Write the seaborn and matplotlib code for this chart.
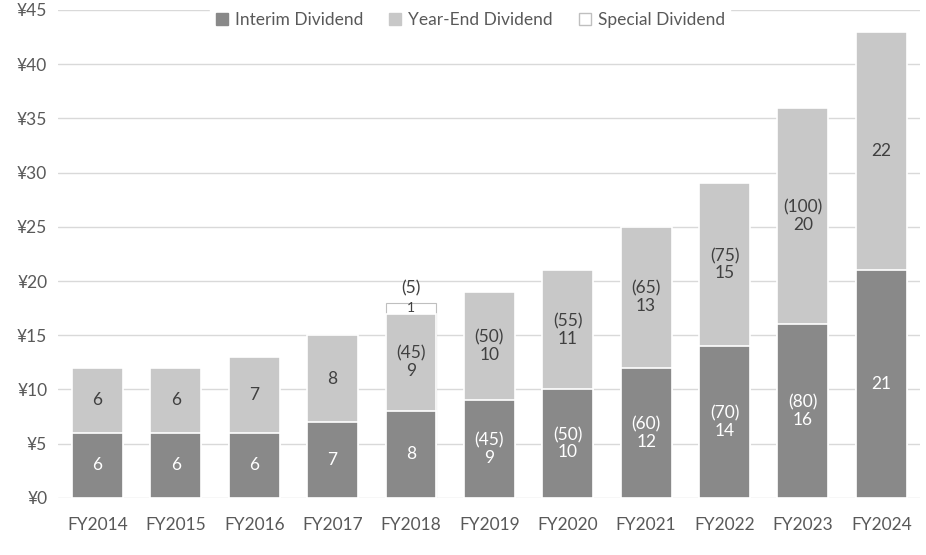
import numpy as np
import pandas as pd
import seaborn as sns
import matplotlib.pyplot as plt
from matplotlib.patches import Patch

# === DADOS ===
years = ["FY2014", "FY2015", "FY2016", "FY2017", "FY2018", "FY2019",
         "FY2020", "FY2021", "FY2022", "FY2023", "FY2024"]
interim = [6, 6, 6, 7, 8, 9, 10, 12, 14, 16, 21]
year_end = [6, 6, 7, 8, 9, 10, 11, 13, 15, 20, 22]
special = [0, 0, 0, 0, 1, 0, 0, 0, 0, 0, 0]
interim_notes = ["", "", "", "", "", "(45)", "(50)", "(60)", "(70)", "(80)", ""]
year_end_notes = ["", "", "", "", "(45)", "(50)", "(55)", "(65)", "(75)", "(100)", ""]
special_notes = ["", "", "", "", "(5)", "", "", "", "", "", ""]

df = pd.DataFrame({"Ano": years, "Interim": interim, "YearEnd": year_end, "Special": special})
df["Mid"] = df["Interim"] + df["YearEnd"]
df["Total"] = df["Mid"] + df["Special"]

c_dark = "#898989"
c_light = "#c8c8c8"
c_text = "#595959"

sns.set_theme(style="white")
plt.rcParams["font.family"] = ["Lato", "DejaVu Sans"]

fig, ax = plt.subplots(figsize=(9.26, 5.55), dpi=100)
fig.subplots_adjust(left=0.063, right=0.994, top=0.982, bottom=0.103)

w = 0.65
sns.barplot(data=df, x="Ano", y="Total", color="white", width=w, saturation=1,
            edgecolor="#bfbfbf", linewidth=0.8, ax=ax, zorder=2)
# borda só onde existe dividendo especial
for p, s in zip(ax.patches, special):
    if s == 0:
        p.set_edgecolor("none")
sns.barplot(data=df, x="Ano", y="Mid", color=c_light, width=w, saturation=1,
            edgecolor="white", linewidth=1.2, ax=ax, zorder=3)
sns.barplot(data=df, x="Ano", y="Interim", color=c_dark, width=w, saturation=1,
            edgecolor="white", linewidth=1.2, ax=ax, zorder=4)

# rótulos
fs = 12.5
ls = 1.1
for i in range(len(years)):
    lab = str(interim[i]) if not interim_notes[i] else interim_notes[i] + "\n" + str(interim[i])
    ax.text(i, interim[i] / 2, lab, ha="center", va="center", color="white",
            fontsize=fs, linespacing=ls, zorder=6)
    lab = str(year_end[i]) if not year_end_notes[i] else year_end_notes[i] + "\n" + str(year_end[i])
    ax.text(i, interim[i] + year_end[i] / 2, lab, ha="center", va="center", color="#404040",
            fontsize=fs, linespacing=ls, zorder=6)
    if special[i]:
        ax.text(i, df["Mid"][i] + special[i] / 2, str(special[i]), ha="center", va="center",
                color="#404040", fontsize=10, zorder=6)
        ax.text(i, df["Total"][i] + 0.6, special_notes[i], ha="center", va="bottom",
                color="#404040", fontsize=fs, zorder=6)

ax.set_xlim(-0.5, len(years) - 0.5)
ax.set_ylim(0, 45)
ax.set_yticks(np.arange(0, 46, 5))
ax.set_yticklabels([f"¥{v}" for v in range(0, 46, 5)])
ax.grid(axis="y", color="#d9d9d9", linewidth=1, zorder=0)
ax.set_axisbelow(True)
for s in ax.spines.values():
    s.set_visible(False)
ax.set_xlabel("")
ax.set_ylabel("")
ax.tick_params(axis="both", length=0, labelsize=12.5, colors=c_text, pad=8)
ax.tick_params(axis="x", pad=14)

handles = [Patch(facecolor=c_dark, edgecolor=c_dark),
           Patch(facecolor=c_light, edgecolor=c_light),
           Patch(facecolor="white", edgecolor="#bfbfbf")]
leg = ax.legend(handles, ["Interim Dividend", "Year-End Dividend", "Special Dividend"],
                loc="upper center", bbox_to_anchor=(0.478, 1.025), ncol=3, frameon=True,
                fontsize=12.5, handlelength=0.7, handleheight=0.7, handletextpad=0.4,
                columnspacing=1.5, borderpad=0.3, fancybox=False)
leg.get_frame().set_edgecolor("white")
leg.get_frame().set_facecolor("white")
leg.get_frame().set_alpha(1)
leg.set_zorder(10)
for t in leg.get_texts():
    t.set_color(c_text)

plt.savefig("out.png", dpi=100)
